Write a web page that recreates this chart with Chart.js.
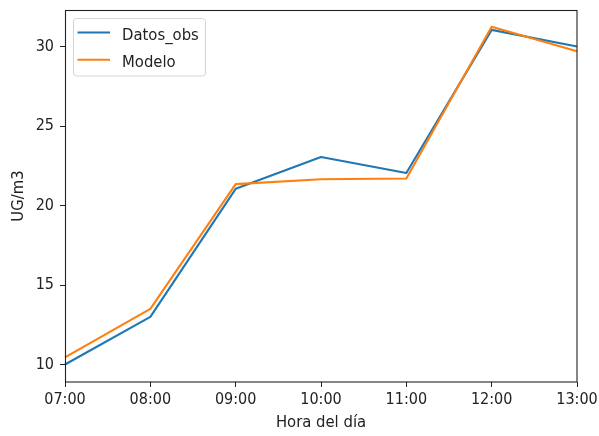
<!DOCTYPE html>
<html>
<head>
<meta charset="utf-8">
<script src="https://cdn.jsdelivr.net/npm/chart.js@4"></script>
<style>
  html, body { margin: 0; padding: 0; background: #fff; }
  #wrap { width: 599px; height: 436px; }
</style>
</head>
<body>
<div id="wrap"><canvas id="c" width="599" height="436"></canvas></div>
<script>
// Concentración por hora: observaciones frente al modelo
const horas = ['07:00', '08:00', '09:00', '10:00', '11:00', '12:00', '13:00'];
const datosObs = [10.0, 13.0, 21.05, 23.05, 22.05, 31.05, 30.0];
const modelo = [10.45, 13.5, 21.35, 21.65, 21.7, 31.25, 29.7];
const yTicks = [10, 15, 20, 25, 30];
const yMin = 8.9;
const yMax = 32.3;

const FONT = '"DejaVu Sans Condensed", "DejaVu Sans", sans-serif';
const TAM = 16;       // etiquetas de los ejes
const TAM_TXT = 16.5; // leyenda y títulos
const AZUL = '#1f77b4';
const NARANJA = '#ff7f0e';

// Marco completo del área de trazado y leyenda en la esquina superior izquierda
const marcoYLeyenda = {
  id: 'marcoYLeyenda',
  afterDraw(chart) {
    const ctx = chart.ctx;
    const a = chart.chartArea;
    ctx.save();
    ctx.strokeStyle = '#222';
    ctx.lineWidth = 1.1;
    ctx.strokeRect(Math.round(a.left) + 0.5, Math.round(a.top) + 0.5,
                   Math.round(a.right - a.left) - 0.5, Math.round(a.bottom - a.top) - 0.5);

    // leyenda
    const lx = a.left + 8.5, ly = a.top + 8.5, lw = 132, lh = 57.5, r = 3;
    ctx.beginPath();
    ctx.moveTo(lx + r, ly);
    ctx.lineTo(lx + lw - r, ly);
    ctx.quadraticCurveTo(lx + lw, ly, lx + lw, ly + r);
    ctx.lineTo(lx + lw, ly + lh - r);
    ctx.quadraticCurveTo(lx + lw, ly + lh, lx + lw - r, ly + lh);
    ctx.lineTo(lx + r, ly + lh);
    ctx.quadraticCurveTo(lx, ly + lh, lx, ly + lh - r);
    ctx.lineTo(lx, ly + r);
    ctx.quadraticCurveTo(lx, ly, lx + r, ly);
    ctx.closePath();
    ctx.fillStyle = 'rgba(255,255,255,0.8)';
    ctx.fill();
    ctx.strokeStyle = '#d4d4d4';
    ctx.lineWidth = 1;
    ctx.stroke();

    ctx.font = TAM_TXT + 'px ' + FONT;
    ctx.textBaseline = 'alphabetic';
    ctx.textAlign = 'left';
    chart.data.datasets.forEach((ds, i) => {
      const y = a.top + 22.5 + i * 27.3;
      ctx.strokeStyle = ds.borderColor;
      ctx.lineWidth = 2;
      ctx.beginPath();
      ctx.moveTo(a.left + 12.5, y);
      ctx.lineTo(a.left + 45, y);
      ctx.stroke();
      ctx.fillStyle = '#222';
      ctx.fillText(ds.label, a.left + 57, y + 7.5);
    });
    ctx.restore();
  }
};

function sinRelleno(scale) {
  scale.paddingTop = 0;
  scale.paddingBottom = 0;
  scale.paddingLeft = 0;
  scale.paddingRight = 0;
}

new Chart(document.getElementById('c'), {
  type: 'line',
  data: {
    labels: horas,
    datasets: [
      { label: 'Datos_obs', data: datosObs, borderColor: AZUL, backgroundColor: AZUL, order: 1 },
      { label: 'Modelo', data: modelo, borderColor: NARANJA, backgroundColor: NARANJA, order: 0 }
    ]
  },
  options: {
    responsive: false,
    devicePixelRatio: 1,
    animation: false,
    layout: { padding: { top: 10, right: 22, left: 0, bottom: 0 } },
    elements: {
      line: { tension: 0, borderWidth: 2.1, borderJoinStyle: 'round', borderCapStyle: 'butt', fill: false },
      point: { radius: 0, hoverRadius: 0 }
    },
    plugins: {
      legend: { display: false },
      tooltip: { enabled: false }
    },
    scales: {
      x: {
        type: 'category',
        offset: false,
        grid: { display: true, drawOnChartArea: false, drawTicks: true, tickLength: 5, color: '#222', lineWidth: 1 },
        border: { display: false },
        ticks: { color: '#222', font: { family: FONT, size: TAM }, padding: 3, maxRotation: 0, autoSkip: false },
        title: { display: true, text: 'Hora del día', color: '#222', font: { family: FONT, size: TAM_TXT }, padding: { top: 0, bottom: 3 } },
        afterFit(scale) { scale.height = 54; sinRelleno(scale); }
      },
      y: {
        type: 'linear',
        min: yMin,
        max: yMax,
        grid: { display: true, drawOnChartArea: false, drawTicks: true, tickLength: 5, color: '#222', lineWidth: 1 },
        border: { display: false },
        ticks: { color: '#222', font: { family: FONT, size: TAM }, padding: 6 },
        afterBuildTicks(scale) { scale.ticks = yTicks.map(v => ({ value: v })); },
        title: { display: true, text: 'UG/m3', color: '#222', font: { family: FONT, size: TAM_TXT }, padding: { top: 9, bottom: 0 } },
        afterFit(scale) { scale.width = 65; sinRelleno(scale); }
      }
    }
  },
  plugins: [marcoYLeyenda]
});
</script>
</body>
</html>
